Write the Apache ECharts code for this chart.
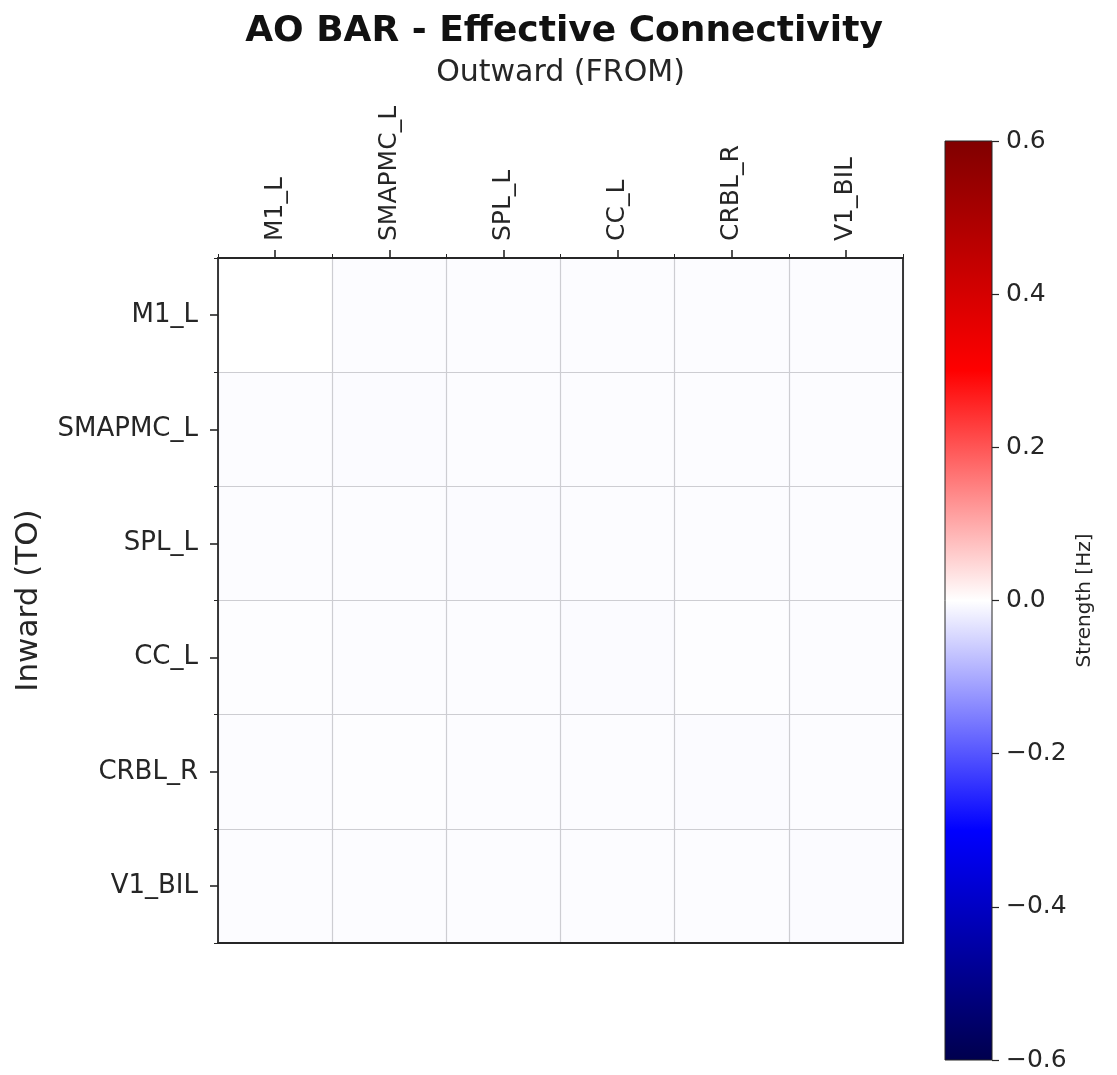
<!DOCTYPE html>
<html>
<head>
<meta charset="utf-8">
<script src="https://cdn.jsdelivr.net/npm/echarts@6/dist/echarts.min.js"></script>
<style>
  html, body { margin: 0; padding: 0; background: #fff; }
  #chart { width: 1117px; height: 1075px; }
</style>
</head>
<body>
<div id="chart"></div>
<script>
// Regions (source = columns, target = rows)
const regions = ['M1_L', 'SMAPMC_L', 'SPL_L', 'CC_L', 'CRBL_R', 'V1_BIL'];

// Connection strength [Hz], rows = TO, columns = FROM
const strengthRows = [
  [ 0.000, -0.004, -0.003, -0.003, -0.004, -0.003],
  [-0.003, -0.005, -0.004, -0.004, -0.004, -0.004],
  [-0.003, -0.004, -0.005, -0.003, -0.003, -0.004],
  [-0.002, -0.004, -0.004, -0.005, -0.002, -0.003],
  [-0.004, -0.002, -0.003, -0.003, -0.005, -0.003],
  [-0.003, -0.004, -0.004, -0.003, -0.003, -0.005]
];

// Colour scale limits and colourbar ticks
const scaleMin = -0.6;
const scaleMax = 0.6;
const scaleStep = 0.2;

// Diverging blue-white-red palette
const seismic = ['#00004d', '#0000ff', '#ffffff', '#ff0000', '#800000'];

const cells = [];
strengthRows.forEach((row, r) => {
  row.forEach((v, c) => cells.push([c, r, v]));
});

const FONT = 'DejaVu Sans';
const INK = '#262626';
const fmt = v => v.toFixed(1).replace('-', '\u2212');

const frameLine = { show: true, onZero: false, lineStyle: { color: INK, width: 1.8 } };
const gridLine = { show: true, lineStyle: { color: '#cdcdd2', width: 1.2 } };

const chart = echarts.init(document.getElementById('chart'), null, { renderer: 'canvas' });

chart.setOption({
  backgroundColor: '#ffffff',
  animation: false,
  textStyle: { fontFamily: FONT, color: INK },
  title: {
    text: 'AO BAR - Effective Connectivity',
    left: 559, top: 9, textAlign: 'center',
    textStyle: { fontFamily: FONT, fontWeight: 'bold', fontSize: 36, color: '#111' }
  },
  grid: [
    { left: 218, top: 258, width: 685, height: 685, show: false },
    {
      left: 945, top: 141, width: 47, height: 919, show: true,
      borderColor: INK, borderWidth: 1,
      backgroundColor: new echarts.graphic.LinearGradient(0, 0, 0, 1, [
        { offset: 0, color: seismic[4] },
        { offset: 0.25, color: seismic[3] },
        { offset: 0.5, color: seismic[2] },
        { offset: 0.75, color: seismic[1] },
        { offset: 1, color: seismic[0] }
      ])
    }
  ],
  xAxis: [
    {
      type: 'category', gridIndex: 0, position: 'top', data: regions, z: 4,
      name: 'Outward (FROM)', nameLocation: 'middle', nameGap: 170,
      nameTextStyle: { fontFamily: FONT, fontSize: 30, color: INK },
      axisLine: frameLine,
      axisTick: { show: true, alignWithLabel: true, length: 8, lineStyle: { color: INK, width: 1.6 } },
      axisLabel: { rotate: -90, fontFamily: FONT, fontSize: 25, color: INK, margin: 17 },
      splitLine: gridLine
    },
    {
      // short ticks on the cell boundaries
      type: 'category', gridIndex: 0, position: 'top', data: regions, z: 4,
      axisLine: { show: false },
      axisTick: { show: true, alignWithLabel: false, length: 4, lineStyle: { color: INK, width: 1 } },
      axisLabel: { show: false }, splitLine: { show: false }
    },
    {
      // lower frame edge
      type: 'category', gridIndex: 0, position: 'bottom', data: regions, z: 4,
      axisLine: frameLine, axisTick: { show: false },
      axisLabel: { show: false }, splitLine: { show: false }
    },
    { type: 'value', gridIndex: 1, show: false, min: 0, max: 1 }
  ],
  yAxis: [
    {
      type: 'category', gridIndex: 0, position: 'left', inverse: true, data: regions, z: 4,
      name: 'Inward (TO)', nameLocation: 'middle', nameGap: 174, nameRotate: 90,
      nameTextStyle: { fontFamily: FONT, fontSize: 31, color: INK },
      axisLine: frameLine,
      axisTick: { show: true, alignWithLabel: true, length: 8, lineStyle: { color: INK, width: 1.6 } },
      axisLabel: { fontFamily: FONT, fontSize: 26, color: INK, margin: 20 },
      splitLine: gridLine
    },
    {
      type: 'category', gridIndex: 0, position: 'left', inverse: true, data: regions, z: 4,
      axisLine: { show: false },
      axisTick: { show: true, alignWithLabel: false, length: 4, lineStyle: { color: INK, width: 1 } },
      axisLabel: { show: false }, splitLine: { show: false }
    },
    {
      // right frame edge
      type: 'category', gridIndex: 0, position: 'right', inverse: true, data: regions, z: 4,
      axisLine: frameLine, axisTick: { show: false },
      axisLabel: { show: false }, splitLine: { show: false }
    },
    {
      type: 'value', gridIndex: 1, position: 'right', z: 4,
      min: scaleMin, max: scaleMax, interval: scaleStep,
      name: 'Strength [Hz]', nameLocation: 'middle', nameGap: 83, nameRotate: 90,
      nameTextStyle: { fontFamily: FONT, fontSize: 20, color: INK },
      axisLine: { show: false, onZero: false },
      axisTick: { show: true, inside: false, length: 7, lineStyle: { color: INK, width: 1.2 } },
      axisLabel: { fontFamily: FONT, fontSize: 25, color: INK, margin: 14, formatter: fmt },
      splitLine: { show: false }
    }
  ],
  visualMap: {
    show: false, type: 'continuous', seriesIndex: 0,
    min: scaleMin, max: scaleMax,
    inRange: { color: seismic }
  },
  series: [
    {
      type: 'heatmap', xAxisIndex: 0, yAxisIndex: 0, data: cells, z: 1,
      itemStyle: { borderWidth: 0 },
      label: { show: false }, emphasis: { disabled: true }
    }
  ]
});
</script>
</body>
</html>
